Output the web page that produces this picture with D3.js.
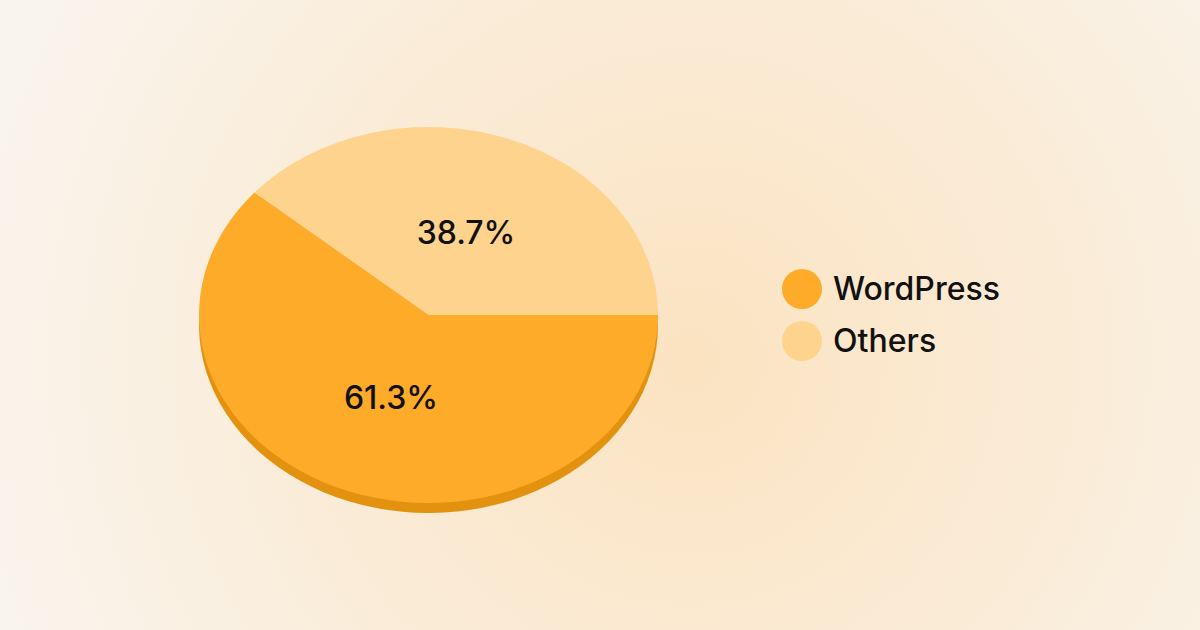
<!DOCTYPE html>
<html>
<head>
<meta charset="utf-8">
<script src="https://cdn.jsdelivr.net/npm/d3@7"></script>
<style>
  html, body { margin: 0; padding: 0; }
  body { width: 1200px; height: 630px; overflow: hidden; }
  text { font-family: Inter, "Noto Sans", sans-serif; }
</style>
</head>
<body>
<script>
// chart values
var categories = ["WordPress", "Others"];
var shares = [61.3, 38.7];
var topColors = ["#fdab29", "#fed38e"];
var sideColors = ["#e39210", "#e8b25e"];

var width = 1200, height = 630;

// pie geometry (tilted ellipse)
var cx = 428.5, cy = 315,
    rx = 229.5, ry = 188,
    depth = 10;

var svg = d3.select("body")
    .append("svg")
    .attr("width", width)
    .attr("height", height);

// warm background glow
var defs = svg.append("defs");
var grad = defs.append("radialGradient")
    .attr("id", "bg")
    .attr("gradientUnits", "userSpaceOnUse")
    .attr("cx", 690).attr("cy", 360).attr("r", 720);
grad.append("stop").attr("offset", "0%").attr("stop-color", "#fbe3c1");
grad.append("stop").attr("offset", "55%").attr("stop-color", "#faecd8");
grad.append("stop").attr("offset", "100%").attr("stop-color", "#f9f4ec");

svg.append("rect")
    .attr("width", width)
    .attr("height", height)
    .attr("fill", "url(#bg)");

var data = categories.map(function(c, i) { return {name: c, value: shares[i], i: i}; });

var pie = d3.pie()
    .sort(null)
    .value(function(d) { return d.value; })
    .startAngle(Math.PI / 2)
    .endAngle(Math.PI / 2 + 2 * Math.PI);

var arcs = pie(data);

var arc = d3.arc()
    .innerRadius(0)
    .outerRadius(rx);

var labelArc = d3.arc()
    .innerRadius(rx * 0.47)
    .outerRadius(rx * 0.47);

var squash = ry / rx;

// side (extruded edge) drawn first, shifted down
svg.append("g")
    .attr("transform", "translate(" + cx + "," + (cy + depth) + ") scale(1," + squash + ")")
    .selectAll("path")
    .data(arcs)
    .enter().append("path")
    .attr("d", arc)
    .attr("fill", function(d) { return sideColors[d.data.i]; });

// top face
svg.append("g")
    .attr("transform", "translate(" + cx + "," + cy + ") scale(1," + squash + ")")
    .selectAll("path")
    .data(arcs)
    .enter().append("path")
    .attr("d", arc)
    .attr("fill", function(d) { return topColors[d.data.i]; });

// percentage labels
svg.append("g")
    .selectAll("text")
    .data(arcs)
    .enter().append("text")
    .attr("x", function(d) { return cx + labelArc.centroid(d)[0]; })
    .attr("y", function(d) { return cy + labelArc.centroid(d)[1] * squash; })
    .attr("dy", "0.36em")
    .attr("text-anchor", "middle")
    .attr("font-size", 32)
    .attr("font-weight", 500)
    .attr("fill", "#111")
    .text(function(d) { return d.data.value.toFixed(1) + "%"; });

// legend
var legend = svg.append("g")
    .attr("transform", "translate(802,289)");

var item = legend.selectAll("g")
    .data(data)
    .enter().append("g")
    .attr("transform", function(d, i) { return "translate(0," + (i * 52) + ")"; });

item.append("circle")
    .attr("r", 20)
    .attr("fill", function(d) { return topColors[d.i]; });

item.append("text")
    .attr("x", 31)
    .attr("y", 11)
    .attr("font-size", 32)
    .attr("font-weight", 500)
    .attr("fill", "#111")
    .text(function(d) { return d.name; });
</script>
</body>
</html>
